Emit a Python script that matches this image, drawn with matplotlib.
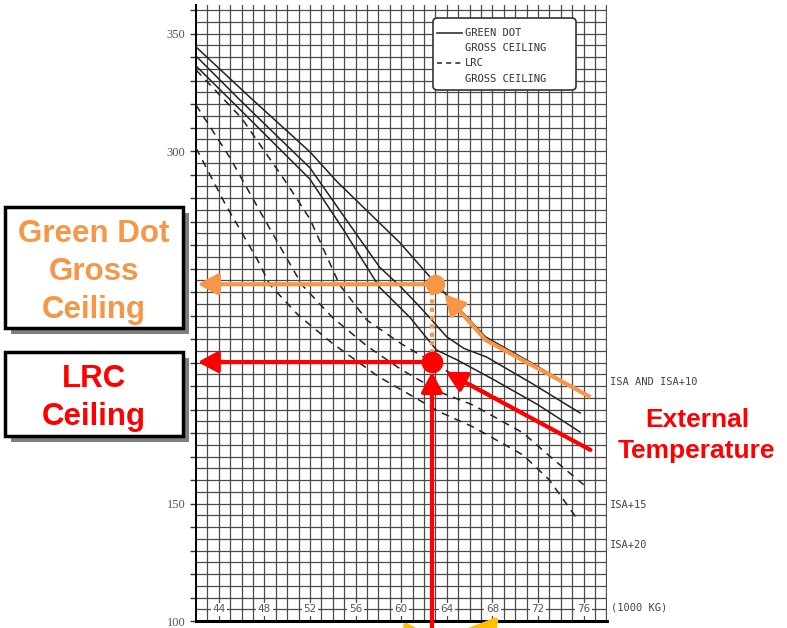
import numpy as np
import matplotlib
matplotlib.use('Agg')
import matplotlib.pyplot as plt
from matplotlib.patches import Rectangle, FancyBboxPatch, FancyArrowPatch

# gross weight (1000 kg) / ceiling (FL) curves
gd_isa_w = [42.0, 46.7, 52.0, 54.4, 59.9, 63.0, 65.2, 67.4, 71.3, 75.9]
gd_isa_fl = [344.3, 323.0, 299.6, 286.8, 260.9, 243.8, 232.3, 220.9, 210.2, 197.0]
gd_isa15_w = [42.0, 46.0, 52.0, 55.0, 58.1, 60.0, 61.9, 64.0, 65.5, 67.5, 71.5, 75.7]
gd_isa15_fl = [340.4, 321.0, 292.8, 272.0, 250.6, 242.0, 232.3, 220.9, 216.0, 212.3, 201.0, 188.5]
gd_isa20_w = [42.0, 46.0, 52.0, 55.0, 58.1, 60.8, 63.1, 64.9, 68.0, 72.0, 75.7]
gd_isa20_fl = [336.2, 317.0, 288.0, 266.0, 242.0, 229.0, 215.3, 211.1, 203.0, 192.0, 180.4]
lrc_isa_w = [42.0, 46.0, 50.0, 52.0, 54.6, 57.0, 60.0, 62.7, 64.3, 68.0, 72.0, 76.4]
lrc_isa_fl = [334.5, 314.0, 286.0, 271.0, 243.0, 228.0, 218.0, 210.2, 205.5, 196.0, 185.0, 172.8]
lrc_isa15_w = [42.0, 45.0, 48.0, 51.3, 54.0, 57.0, 60.0, 63.4, 66.3, 70.7, 73.1, 76.0]
lrc_isa15_fl = [319.6, 297.0, 271.0, 243.0, 229.0, 217.0, 207.0, 197.4, 191.9, 180.0, 169.8, 158.0]
lrc_isa20_w = [42.0, 44.5, 47.4, 48.5, 51.0, 54.0, 58.0, 63.4, 66.3, 70.7, 73.0, 75.5]
lrc_isa20_fl = [301.3, 278.0, 253.6, 243.0, 230.0, 218.0, 204.0, 188.9, 182.6, 170.6, 160.0, 143.0]

x_ticks = [44, 48, 52, 56, 60, 64, 68, 72, 76]
y_ticks = [100, 150, 200, 250, 300, 350]

# worked example
gd_weight = 63.0
gd_ceiling = 243.3
lrc_weight = 62.7
lrc_ceiling = 210.2
orange_path_w = [76.6, 67.4, 63.8]
orange_path_fl = [195.3, 219.6, 239.1]
red_path_w = [76.6, 63.9]
red_path_fl = [172.8, 206.0]

W, H = 787, 628
fig = plt.figure(figsize=(W / 100, H / 100), dpi=100)
fig.patch.set_facecolor('white')


def fx(px):
    return px / W


def fy(py):
    return 1 - py / H


ax = fig.add_axes([fx(196), fy(621), fx(607) - fx(196), fy(5) - fy(621)])
ax.set_xlim(42, 42 + 411 / 11.4)
ax.set_ylim(100, 100 + 616 / 2.35)

# chart grid
for v in np.arange(43, 79, 1):
    ax.axvline(v, color='#4a4a4a', lw=0.9, zorder=1)
for h in np.arange(105, 362, 5):
    ax.axhline(h, color='#4a4a4a', lw=0.9, zorder=1)

for s in ['top', 'right']:
    ax.spines[s].set_visible(False)
ax.spines['left'].set_linewidth(1.4)
ax.spines['bottom'].set_linewidth(2.2)
ax.set_xticks([])
ax.set_yticks(y_ticks)
ax.set_yticks(np.arange(100, 361, 10), minor=True)
ax.tick_params(axis='y', which='both', direction='out', length=4, width=1, color='#333')
ax.set_yticklabels([str(t) for t in y_ticks], fontfamily='Liberation Serif', fontsize=9, color='#555')

for t in x_ticks:
    ax.text(t, 105, str(t), ha='center', va='center', fontsize=7.5, color='#555',
            fontfamily='DejaVu Sans Condensed',
            bbox=dict(boxstyle='square,pad=0.15', fc='white', ec='none'), zorder=3)

# curves
for w, fl in [(gd_isa_w, gd_isa_fl), (gd_isa15_w, gd_isa15_fl), (gd_isa20_w, gd_isa20_fl)]:
    ax.plot(w, fl, color='#222', lw=1.1, zorder=4)
for w, fl in [(lrc_isa_w, lrc_isa_fl), (lrc_isa15_w, lrc_isa15_fl), (lrc_isa20_w, lrc_isa20_fl)]:
    ax.plot(w, fl, color='#222', lw=1.1, ls=(0, (5, 4)), zorder=4)

mono = 'DejaVu Sans Mono'
fig.text(fx(610), fy(382), 'ISA AND ISA+10', fontfamily=mono, fontsize=7.5, color='#444', va='center')
fig.text(fx(610), fy(505), 'ISA+15', fontfamily=mono, fontsize=7.5, color='#444', va='center')
fig.text(fx(610), fy(545), 'ISA+20', fontfamily=mono, fontsize=7.5, color='#444', va='center')
fig.text(fx(611), fy(607), '(1000 KG)', fontfamily=mono, fontsize=7.5, color='#444', va='center')

# legend box
leg = FancyBboxPatch((fx(433), fy(90)), fx(576) - fx(433), fy(18) - fy(90),
                     boxstyle='round,pad=0,rounding_size=0.006', transform=fig.transFigure,
                     fc='white', ec='#333', lw=1.2, zorder=5)
fig.add_artist(leg)
fig.add_artist(plt.Line2D([fx(437), fx(462)], [fy(33), fy(33)], color='#333', lw=1.2, zorder=6))
fig.add_artist(plt.Line2D([fx(437), fx(462)], [fy(63), fy(63)], color='#333', lw=1.2, ls=(0, (3, 2.5)), zorder=6))
for txt, py in [('GREEN DOT', 33), ('GROSS CEILING', 48), ('LRC', 63), ('GROSS CEILING', 79)]:
    fig.text(fx(465), fy(py), txt, fontfamily=mono, fontsize=7.5, color='#333', va='center', zorder=6)

orange = '#F79646'
red = '#FF0000'
head = '-|>,head_length=0.6,head_width=0.32'


def arrow(xy, xytext, color):
    ax.annotate('', xy=xy, xytext=xytext, zorder=8, annotation_clip=False,
                arrowprops=dict(arrowstyle=head, color=color, lw=3, mutation_scale=20,
                                shrinkA=0, shrinkB=0))


# orange: green dot gross ceiling
arrow((42.15, gd_ceiling), (gd_weight, gd_ceiling), orange)
ax.plot([lrc_weight, lrc_weight], [gd_ceiling - 3, lrc_ceiling + 3], color=orange, lw=3,
        ls=(0, (1, 1)), zorder=7)
ax.plot(orange_path_w[:-1], orange_path_fl[:-1], color=orange, lw=3, zorder=8, solid_capstyle='butt')
arrow((orange_path_w[-1], orange_path_fl[-1]), (orange_path_w[-2], orange_path_fl[-2]), orange)
ax.plot(gd_weight, gd_ceiling, 'o', color=orange, ms=13, zorder=9)

# red: LRC ceiling
arrow((42.15, lrc_ceiling), (lrc_weight, lrc_ceiling), red)
arrow((lrc_weight, 206.0), (lrc_weight, 96.0), red)
arrow((red_path_w[1], red_path_fl[1]), (red_path_w[0], red_path_fl[0]), red)
ax.plot(lrc_weight, lrc_ceiling, 'o', color=red, ms=14.5, zorder=9)

# yellow arrows at the bottom edge, only their heads show
yellow = '#FFC000'
for tip, tail in [((403, 621), (455, 700)), ((499, 616), (430, 700))]:
    fig.add_artist(FancyArrowPatch(
        (fx(tail[0]), fy(tail[1])), (fx(tip[0]), fy(tip[1])), transform=fig.transFigure,
        arrowstyle='-|>,head_length=1.6,head_width=0.9', color=yellow, lw=4,
        mutation_scale=20, shrinkA=0, shrinkB=0, zorder=10))


# callout boxes
def callout(x0, y0, x1, y1):
    fig.add_artist(Rectangle((fx(x0 + 6), fy(y1 + 6)), fx(x1 - x0), fy(y0) - fy(y1),
                             transform=fig.transFigure, fc='#7f7f7f', ec='none', zorder=10))
    fig.add_artist(Rectangle((fx(x0), fy(y1)), fx(x1 - x0), fy(y0) - fy(y1),
                             transform=fig.transFigure, fc='white', ec='black', lw=2.5, zorder=11))


callout(5, 207, 183, 328)
callout(5, 352, 183, 436)
bold = dict(fontfamily='Liberation Sans', fontweight='bold', ha='center', va='center', zorder=12)
for txt, py in [('Green Dot', 234), ('Gross', 272), ('Ceiling', 310)]:
    fig.text(fx(94), fy(py), txt, color=orange, fontsize=22.5, **bold)
for txt, py in [('LRC', 379), ('Ceiling', 417)]:
    fig.text(fx(94), fy(py), txt, color=red, fontsize=22.5, **bold)
for txt, py in [('External', 420), ('Temperature', 451)]:
    fig.text(fx(697), fy(py), txt, color=red, fontsize=19, **bold)

fig.savefig('out.png', dpi=100)
